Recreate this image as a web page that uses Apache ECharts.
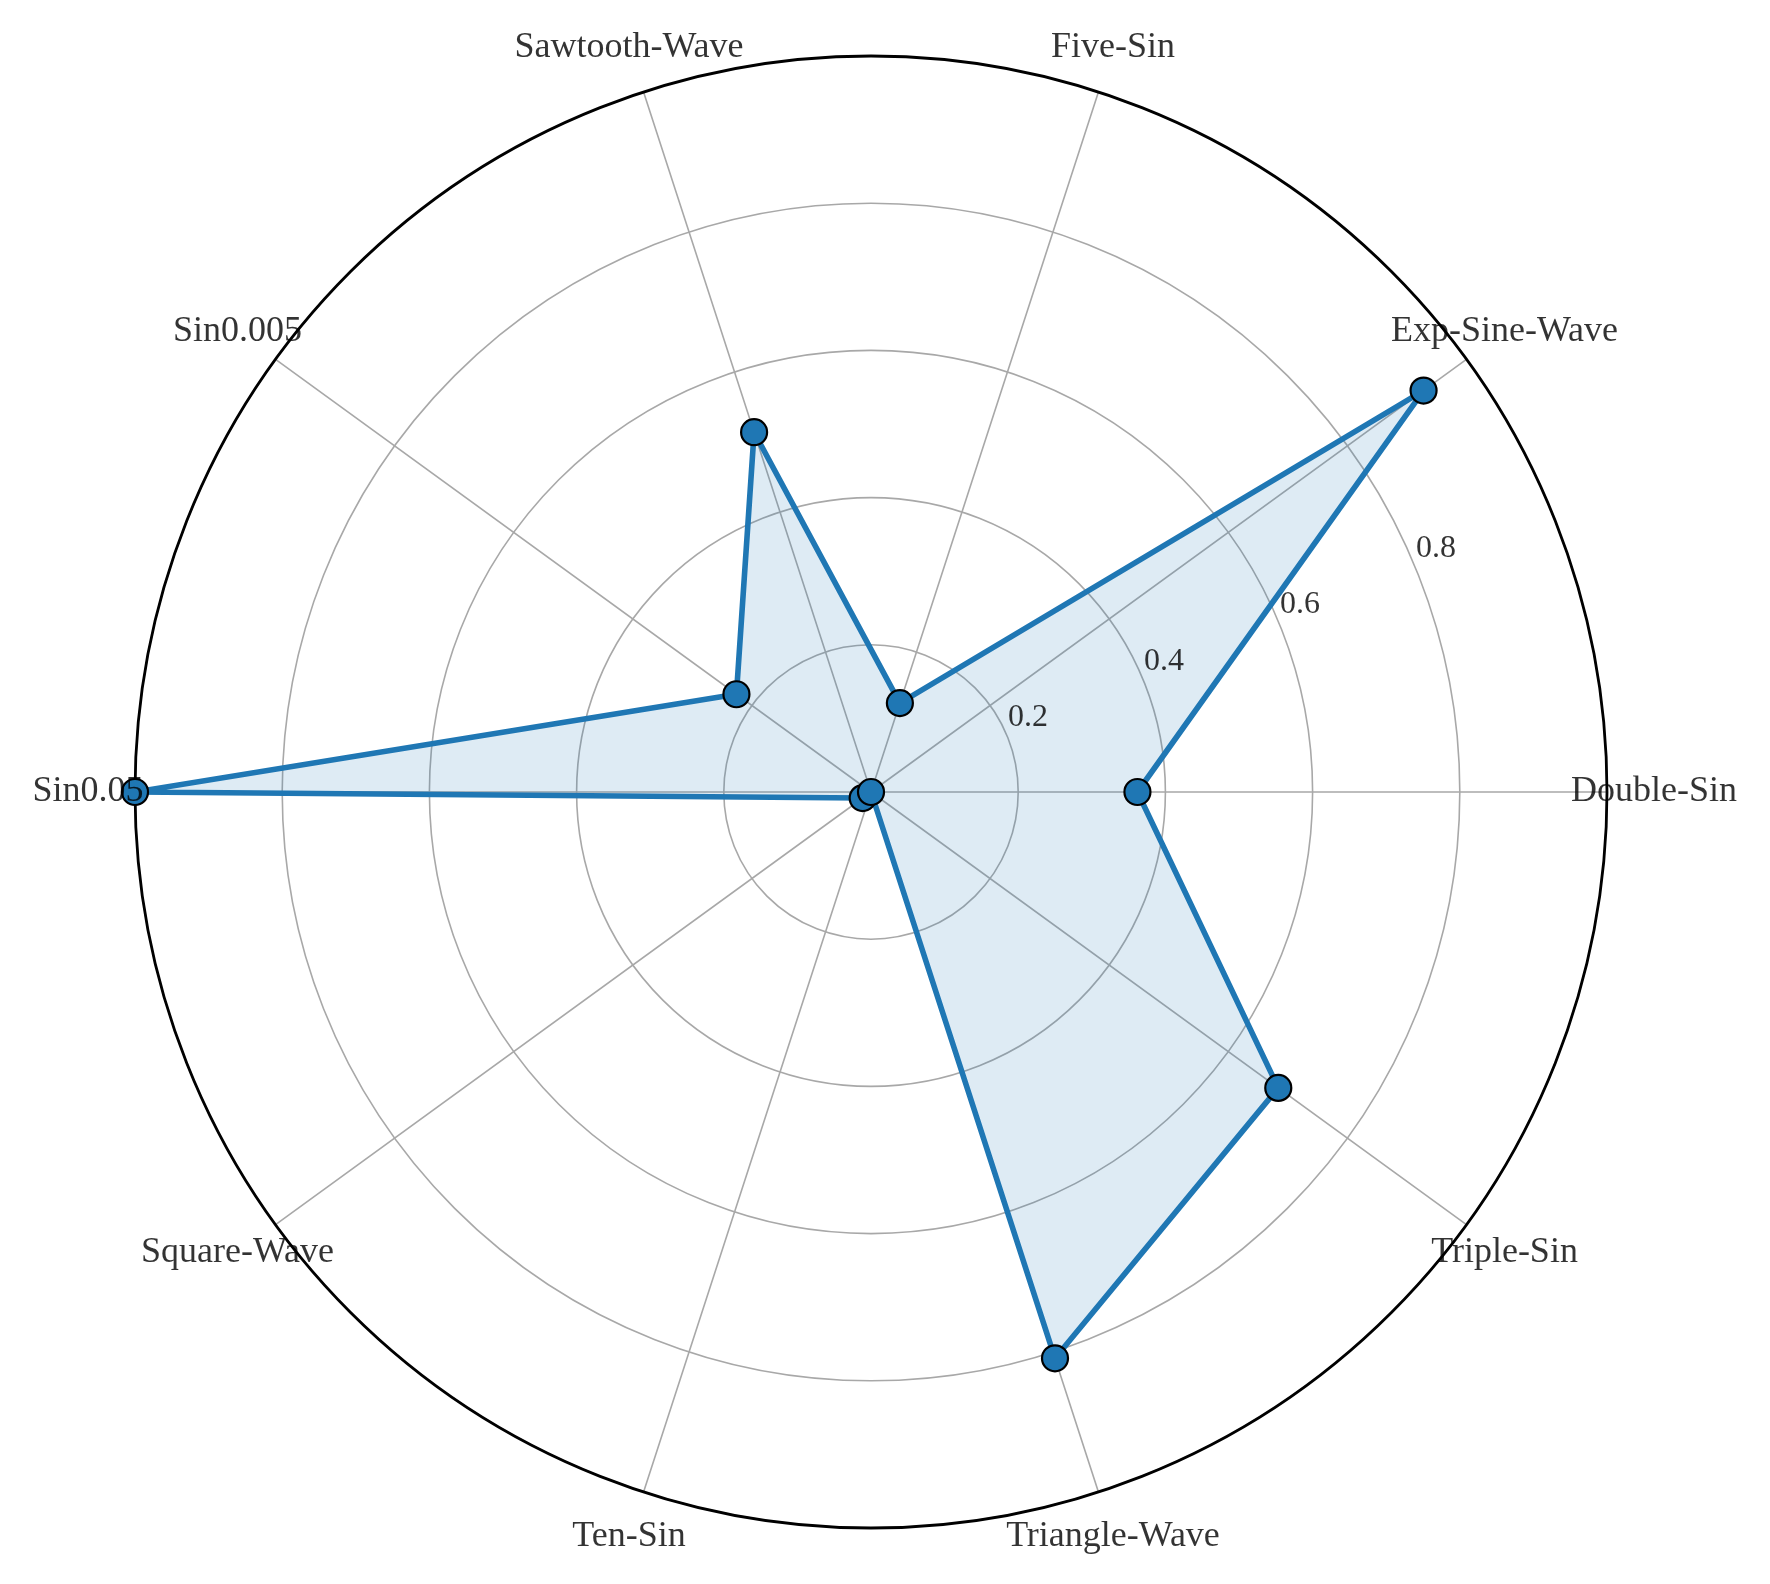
<!DOCTYPE html>
<html>
<head>
<meta charset="utf-8">
<script src="https://cdn.jsdelivr.net/npm/echarts@6/dist/echarts.min.js"></script>
<style>
  html, body { margin: 0; padding: 0; background: #fff; }
  #chart { width: 1770px; height: 1584px; }
</style>
</head>
<body>
<div id="chart"></div>
<script>
// categories go counter-clockwise from 3 o'clock
const categories = ['Double-Sin', 'Exp-Sine-Wave', 'Five-Sin', 'Sawtooth-Wave', 'Sin0.005',
  'Sin0.05', 'Square-Wave', 'Ten-Sin', 'Triangle-Wave', 'Triple-Sin'];
const scores = [0.362, 0.928, 0.127, 0.514, 0.226, 1.0, 0.014, 0.0, 0.809, 0.684];
const radialTicks = [0.2, 0.4, 0.6, 0.8];

const step = 360 / categories.length;
const font = 'Liberation Serif';
const blue = '#1f77b4';

// closed loop: repeat the first point at 360 deg
const lineData = scores.map((v, i) => [v, step * i]);
lineData.push({ value: [scores[0], 360], symbol: 'none' });

const chart = echarts.init(document.getElementById('chart'));
chart.setOption({
  animation: false,
  backgroundColor: '#fff',
  polar: {
    center: [871, 792],
    radius: 736
  },
  angleAxis: {
    type: 'value',
    min: 0,
    max: 360,
    interval: step,
    startAngle: 0,
    clockwise: false,
    axisLine: { show: true, lineStyle: { color: '#000', width: 2.8 } },
    axisTick: { show: false },
    axisLabel: { show: false },
    splitLine: { show: true, lineStyle: { color: '#a8a8a8', width: 1.6 } }
  },
  radiusAxis: {
    type: 'value',
    min: 0,
    max: 1,
    interval: 0.2,
    axisLine: { show: false },
    axisTick: { show: false },
    axisLabel: { show: false },
    splitLine: { show: true, lineStyle: { color: '#a8a8a8', width: 1.6 } }
  },
  series: [
    {
      type: 'line',
      coordinateSystem: 'polar',
      data: lineData,
      clip: false,
      symbol: 'circle',
      symbolSize: 26,
      lineStyle: { color: blue, width: 5.6 },
      itemStyle: { color: blue, borderColor: '#000', borderWidth: 2.2 },
      areaStyle: { color: blue, opacity: 0.15 },
      z: 3
    },
    {
      // category names just outside the outer circle
      type: 'scatter',
      coordinateSystem: 'polar',
      clip: false,
      silent: true,
      symbolSize: 0,
      data: categories.map((c, i) => ({ name: c, value: [1.064, step * i] })),
      label: {
        show: true,
        position: 'inside',
        formatter: '{b}',
        color: '#000',
        textBorderWidth: 0,
        fontSize: 36,
        fontFamily: font
      },
      z: 5
    },
    {
      // radial tick labels along 22.5 deg
      type: 'scatter',
      coordinateSystem: 'polar',
      clip: false,
      silent: true,
      symbolSize: 0,
      data: radialTicks.map(t => [t, 22.5]),
      label: {
        show: true,
        position: 'inside',
        offset: [21, -18],
        formatter: p => p.value[0].toFixed(1),
        color: '#000',
        textBorderWidth: 0,
        fontSize: 32,
        fontFamily: font
      },
      z: 5
    }
  ]
});
</script>
</body>
</html>
